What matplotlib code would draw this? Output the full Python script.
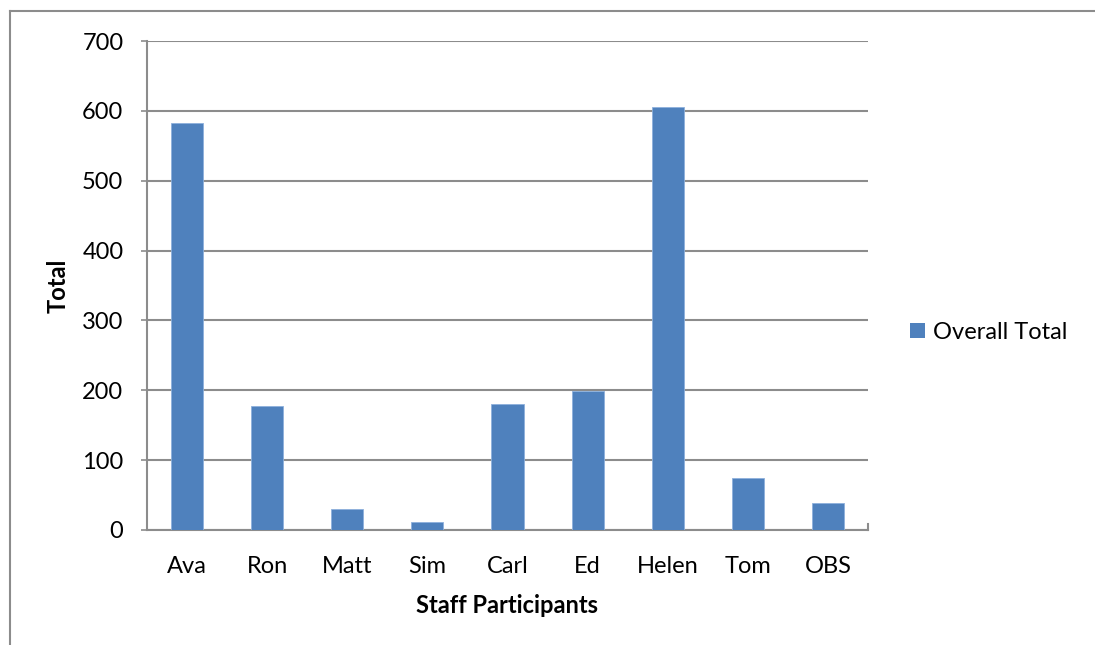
import matplotlib
matplotlib.use("Agg")
import matplotlib.pyplot as plt
from matplotlib.lines import Line2D
from matplotlib.patches import Patch

# Data
staff = ["Ava", "Ron", "Matt", "Sim", "Carl", "Ed", "Helen", "Tom", "OBS"]
overall_total = [582, 177, 30, 12, 181, 199, 606, 75, 38]
y_ticks = [0, 100, 200, 300, 400, 500, 600, 700]

W, H = 1095, 645
fig = plt.figure(figsize=(W / 100, H / 100), dpi=100)
plt.rcParams["font.family"] = ["Lato", "DejaVu Sans"]

FS = 17
bar_color = "#4F81BD"
grid_color = "#8C8C8C"

ax = fig.add_axes([147 / W, 1 - 530 / H, (868 - 147) / W, (530 - 41) / H])
x = list(range(len(staff)))
ax.bar(x, overall_total, width=0.4, color=bar_color, zorder=3,
       edgecolor="#8DB0DC", linewidth=0.6)
ax.set_xlim(-0.5, len(staff) - 0.5)
ax.set_ylim(0, 700)
ax.set_yticks(y_ticks)
ax.set_xticks(x)
ax.set_xticklabels(staff)

ax.yaxis.grid(True, color=grid_color, linewidth=1.5, zorder=0)
ax.set_axisbelow(True)
for side in ("top", "right"):
    ax.spines[side].set_visible(False)
for side in ("left", "bottom"):
    ax.spines[side].set_color(grid_color)
    ax.spines[side].set_linewidth(1.5)

ax.tick_params(axis="y", direction="out", length=4, width=1.2,
               color=grid_color, pad=13, labelsize=FS, labelcolor="#000000")
ax.tick_params(axis="x", direction="in", length=4, width=1.2,
               color=grid_color, pad=19, labelsize=FS, labelcolor="#000000")
# end tick at the right of the category axis
ax.plot([1, 1], [0, 0.012], transform=ax.transAxes, color=grid_color,
        linewidth=1.5, clip_on=False)

ax.set_xlabel("Staff Participants", fontsize=FS, fontweight="bold", labelpad=12)
ax.set_ylabel("Total", fontsize=FS, fontweight="bold", labelpad=9)

handle = Patch(facecolor=bar_color, edgecolor="none")
fig.legend([handle], ["Overall Total"], loc="center left",
           bbox_to_anchor=(910 / W, 1 - 332 / H), frameon=False,
           fontsize=FS, handlelength=0.62, handleheight=0.62,
           handletextpad=0.35, borderpad=0, borderaxespad=0)

# chart frame
fig.add_artist(Line2D([10 / W, 1], [1 - 11 / H, 1 - 11 / H],
                      transform=fig.transFigure, color="#8C8C8C", linewidth=1.5))
fig.add_artist(Line2D([10 / W, 10 / W], [0, 1 - 11 / H],
                      transform=fig.transFigure, color="#8C8C8C", linewidth=1.5))

fig.savefig("out.png", dpi=100, facecolor="white")
